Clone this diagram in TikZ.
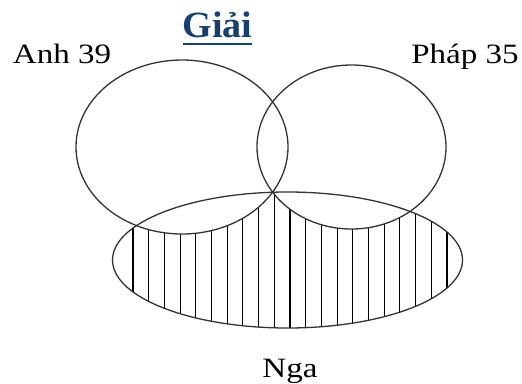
\documentclass[tikz,border=0pt]{standalone}
\usepackage{fontspec}
\setmainfont{Liberation Serif}
\definecolor{navy}{HTML}{17406D}
\definecolor{edge}{HTML}{333333}
\begin{document}
\begin{tikzpicture}[x=1pt,y=-1pt,
  setline/.style={draw=edge,line width=1.3pt},
  hatchline/.style={draw=black,line width=1.1pt},
  lbl/.style={font=\fontsize{28}{30}\selectfont,inner sep=0pt,anchor=base,transform shape,xscale=1.18},
  ttl/.style={font=\fontsize{37}{40}\selectfont\bfseries,text=navy,inner sep=0pt,anchor=base,transform shape,xscale=1.03}]
\useasboundingbox (0,0) rectangle (522,383);
% hatching: Nga minus (Anh u Phap)
\begin{scope}
  \clip (287.5,260) ellipse [x radius=175, y radius=68];
  \foreach \k in {0,...,20} {
    \draw[hatchline] ({133+\k*15.7},180) -- ({133+\k*15.7},340);
  }
  \fill[white] (182,147) ellipse [x radius=106, y radius=87];
  \fill[white] (351.5,147) ellipse [x radius=94.5, y radius=82];
\end{scope}
% set outlines
\draw[setline] (182,147) ellipse [x radius=106, y radius=87];
\draw[setline] (351.5,147) ellipse [x radius=94.5, y radius=82];
\draw[setline] (287.5,260) ellipse [x radius=175, y radius=68];
% labels
\node[lbl] (anh) at (62,63) {Anh 39};
\node[lbl] (phap) at (465,63) {Pháp 35};
\node[lbl] (nga) at (290,377) {Nga};
\node[ttl] (giai) at (217.5,37) {Giải};
\draw[navy,line width=2pt] (183,43.5) -- (252,43.5);
\end{tikzpicture}
\end{document}
